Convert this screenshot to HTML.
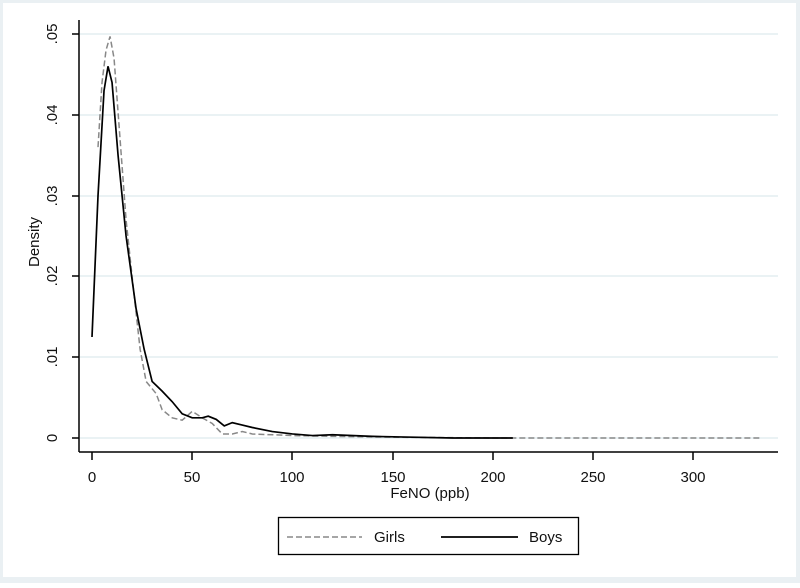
<!DOCTYPE html><html><head><style>body{margin:0;background:#fff}</style></head><body>
<svg width="800" height="583" xmlns="http://www.w3.org/2000/svg" font-family="Liberation Sans, sans-serif">
<rect x="0" y="0" width="800" height="583" fill="#eaf0f3"/>
<rect x="3" y="3" width="793" height="574" fill="#fff"/>
<g stroke="#e3edf1" stroke-width="1.5">
<line x1="80" x2="778" y1="34" y2="34"/><line x1="80" x2="778" y1="115" y2="115"/><line x1="80" x2="778" y1="196" y2="196"/><line x1="80" x2="778" y1="276" y2="276"/><line x1="80" x2="778" y1="357" y2="357"/><line x1="80" x2="778" y1="438" y2="438"/>
</g>
<g stroke="#000" stroke-width="1.5">
<line x1="79" y1="20" x2="79" y2="452"/><line x1="79" y1="452" x2="778" y2="452"/>
<line x1="72" x2="79" y1="34" y2="34"/><line x1="72" x2="79" y1="115" y2="115"/><line x1="72" x2="79" y1="196" y2="196"/><line x1="72" x2="79" y1="276" y2="276"/><line x1="72" x2="79" y1="357" y2="357"/><line x1="72" x2="79" y1="438" y2="438"/>
<line x1="92" x2="92" y1="452" y2="460"/><line x1="192" x2="192" y1="452" y2="460"/><line x1="292" x2="292" y1="452" y2="460"/><line x1="393" x2="393" y1="452" y2="460"/><line x1="493" x2="493" y1="452" y2="460"/><line x1="593" x2="593" y1="452" y2="460"/><line x1="693" x2="693" y1="452" y2="460"/>
</g>
<g font-size="15" text-anchor="middle" fill="#111">
<text transform="translate(57,34) rotate(-90)">.05</text>
<text transform="translate(57,115) rotate(-90)">.04</text>
<text transform="translate(57,196) rotate(-90)">.03</text>
<text transform="translate(57,276) rotate(-90)">.02</text>
<text transform="translate(57,357) rotate(-90)">.01</text>
<text transform="translate(57,438) rotate(-90)">0</text>
<text transform="translate(39,242) rotate(-90)">Density</text>
<text x="92" y="482">0</text><text x="192" y="482">50</text><text x="292" y="482">100</text><text x="393" y="482">150</text><text x="493" y="482">200</text><text x="593" y="482">250</text><text x="693" y="482">300</text>
<text x="430" y="498">FeNO (ppb)</text>
</g>
<g transform="translate(92,438) scale(2.004,-8080)" fill="none">
<polyline vector-effect="non-scaling-stroke" stroke="#888" stroke-width="1.5" stroke-dasharray="6,3" points="3,0.036 5,0.044 7,0.048 9,0.0497 11,0.047 14,0.037 17,0.027 20,0.02 24,0.011 27,0.007 32,0.0055 35,0.0035 40,0.0025 45,0.0022 50,0.0033 55,0.0025 60,0.0018 65,0.0005 70,0.0005 75,0.0008 80,0.0005 100,0.0003 120,0.0002 150,0.0001 200,0 333,0"/>
<polyline vector-effect="non-scaling-stroke" stroke="#000" stroke-width="1.7" points="0,0.0125 3,0.03 6,0.043 8,0.046 10,0.044 13,0.035 17,0.025 22,0.016 26,0.011 30,0.007 35,0.0058 40,0.0045 45,0.003 50,0.0025 55,0.0025 58,0.0027 62,0.0023 66,0.0015 70,0.0019 75,0.0016 80,0.0013 90,0.0008 100,0.0005 110,0.0003 120,0.0004 140,0.0002 160,0.0001 180,0 210,0"/>
</g>
<rect x="278.5" y="517.5" width="300" height="37" fill="#fff" stroke="#000" stroke-width="1.3"/>
<line x1="287" x2="362" y1="537" y2="537" stroke="#888" stroke-width="1.5" stroke-dasharray="6,3"/>
<line x1="441" x2="518" y1="537" y2="537" stroke="#000" stroke-width="1.7"/>
<g font-size="15" fill="#111"><text x="374" y="542">Girls</text><text x="529" y="542">Boys</text></g>
</svg></body></html>
